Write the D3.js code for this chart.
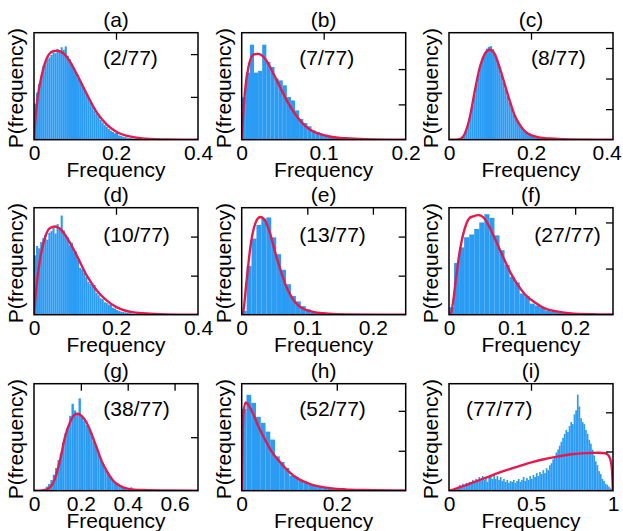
<!DOCTYPE html>
<html>
<head>
<meta charset="utf-8">
<script src="https://cdn.jsdelivr.net/npm/d3@7"></script>
<style>
html,body{margin:0;padding:0;background:#fff;}
svg{display:block;}
text{font-family:"Liberation Sans",Arial,Helvetica,sans-serif;fill:#000;}
</style>
</head>
<body>
<svg id="chart" width="623" height="531"></svg>
<script>
// ---------------- DATA ----------------
const panelLabels = ["(a)","(b)","(c)","(d)","(e)","(f)","(g)","(h)","(i)"];
const fractionLabels = ["(2/77)","(7/77)","(8/77)","(10/77)","(13/77)","(27/77)","(38/77)","(52/77)","(77/77)"];
const xMax = [0.4, 0.2, 0.4, 0.4, 0.25, 0.26, 0.7, 0.345, 1];
const xTickValues = [[0,0.2,0.4],[0,0.1,0.2],[0,0.2,0.4],[0,0.2,0.4],[0,0.1,0.2],[0,0.1,0.2],[0,0.2,0.4,0.6],[0,0.2],[0,0.5,1]];
const yMax = [12.5, 30.3, 17.5, 13.7, 27.4, 11.6, 8.0, 26.8, 5.46];
const yTickValues = [[5,10],[10,20],[5,10,15],[5,10],[10,20],[5,10],[4],[10,20],[2,4]];
const histStart = [0, 0, 0.02, 0, 0, 0, 0.02, 0, 0];
const histWidth = [0.005, 0.005, 0.005, 0.005, 0.0075, 0.008, 0.01, 0.01, 0.01];

const histA = [4.2,5.5,6.5,7.4,8.6,8.8,9.4,9.6,9.9,10.2,10.1,10.6,10.3,10.8,10.5,10.9,9.8,9.4,8.9,8.4,7.9,7.2,6.9,6.4,5.9,5.3,4.9,4.4,4.0,3.4,3.0,2.7,2.3,2.0,1.7,1.5,1.25,1.05,0.9,0.75,0.9,0.5,0.45,0.35,0.3,0.25,0.2,0.18,0.12,0.1,0.08,0.06,0.05,0.03,0.03,0.02];
const histB = [12,19,26.9,19,19.5,26.9,22,20.6,17.3,16.8,15.4,12.1,11.1,8.3,5.9,4.7,3.8,2.6,2.2,1.7,1.4,1.1,0.9,0.75,0.6,0.5,0.4,0.35,0.3,0.25,0.2,0.15,0.12,0.1,0.08,0.06];
const histC = [0.1,0.2,0.4,0.8,1.5,2.6,4.0,5.6,7.4,9.2,10.8,12.3,13.5,14.3,14.9,15.2,15.3,14.8,14.0,13.0,11.9,10.6,9.4,8.2,7.1,6.1,5.2,4.3,3.6,3.0,2.5,2.0,1.6,1.3,1.0,0.8,0.6,0.5,0.4,0.3,0.25,0.2,0.15,0.1,0.08,0.05];
const histD = [7.6,8.8,8.5,9.3,9.8,10.2,9.6,10.5,10.7,11.1,10.4,11.6,10.9,12.7,10.8,10.2,9.9,8.9,9.2,8.0,8.1,7.0,6.0,5.8,5.4,4.8,4.2,3.9,3.7,3.8,2.8,2.5,2.1,2.0,1.6,1.5,1.3,1.4,0.9,0.8,0.6,0.5,0.4,0.35,0.3,0.25,0.2,0.15,0.12,0.1,0.08,0.06,0.05,0.04,0.03];
const histE = [1.0,12.5,19.5,23.0,24.6,24.9,19.8,15.5,11.5,7.8,4.8,3.4,2.2,1.4,0.9,0.6,0.4,0.3,0.2,0.15,0.1,0.07,0.05];
const histF = [0.8,5.6,7.3,8.4,8.7,9.3,10.0,10.9,10.5,8.6,7.0,5.4,4.1,3.5,2.3,2.0,1.2,1.0,0.8,0.45,0.35,0.25,0.18,0.12,0.1,0.06,0.05,0.03];
const histG = [0.05,0.1,0.15,0.3,0.5,0.8,1.2,1.7,2.3,2.8,3.6,4.3,4.7,5.6,6.5,6.0,5.8,6.9,5.5,5.2,4.9,4.6,4.3,3.7,3.3,2.8,2.4,2.0,1.6,1.3,1.1,0.8,0.6,0.5,0.4,0.3,0.25,0.2,0.15,0.25,0.1,0.06,0.04,0.03];
const histH = [20.5,24.0,22.0,18.5,17.0,14.8,12.8,8.6,7.2,5.7,3.8,3.4,2.5,2.1,1.6,1.3,1.2,0.8,0.7,0.5,0.4,0.35,0.3,0.2,0.15,0.12,0.1,0.08,0.06,0.05];
const histI = [0.05,0.1,0.08,0.15,0.12,0.2,0.3,0.18,0.35,0.25,0.4,0.3,0.45,0.35,0.55,0.4,0.6,0.45,0.7,0.5,0.75,0.55,0.65,0.45,0.7,0.8,0.6,0.85,0.6,0.75,0.55,0.7,0.5,0.6,0.45,0.55,0.4,0.5,0.45,0.55,0.4,0.5,0.6,0.45,0.55,0.7,0.5,0.65,0.55,0.75,0.6,0.8,0.7,0.9,0.75,0.95,0.85,1.05,0.9,1.15,1.05,1.3,1.4,1.6,1.7,1.95,2.1,2.3,2.5,2.7,2.9,3.1,3.0,3.3,3.5,3.4,3.9,4.1,4.9,4.3,3.7,3.5,3.4,3.1,2.9,2.6,2.4,2.1,1.8,1.5,1.3,1.0,0.85,0.6,0.5,0.35,0.3,0.2,0.12,0.08];

const curveAx = [0,0.003,0.008,0.0187,0.031,0.047,0.057,0.0715,0.088,0.104,0.128,0.153,0.177,0.2016,0.242,0.283,0.324,0.4];
const curveAy = [0,2.2,4.6,7.5,9.5,10.35,10.4,10.1,9.1,7.7,5.4,3.2,1.8,0.9,0.3,0.08,0.02,0];
const curveBx = [0,0.002,0.0041,0.0082,0.0143,0.0196,0.0286,0.0367,0.0449,0.0571,0.0694,0.0816,0.0939,0.110,0.1265,0.151,0.2];
const curveBy = [0,8,14,20.5,24.1,24.3,22.9,19.6,15.8,10.2,5.9,3.1,1.7,0.75,0.4,0.15,0];
const curveCx = [0,0.015,0.0267,0.0388,0.0509,0.063,0.0751,0.0873,0.0994,0.1115,0.1236,0.1357,0.1479,0.16,0.176,0.192,0.2166,0.257,0.297,0.4];
const curveCy = [0,0.01,0.1,1.0,3.7,8.0,11.8,14.0,14.7,14.0,11.8,9.1,6.4,4.0,2.1,1.0,0.43,0.16,0.05,0];
const curveDx = [0,0.003,0.0081,0.0147,0.0269,0.0391,0.0513,0.0636,0.0799,0.0962,0.1125,0.1288,0.1532,0.1777,0.2021,0.2428,0.2836,0.3243,0.4];
const curveDy = [0,2.0,4.6,7.1,9.9,11.1,11.3,11.0,9.9,8.4,6.7,5.0,3.1,1.8,0.94,0.3,0.13,0.04,0];
const curveEx = [0,0.001,0.0077,0.0128,0.0204,0.0281,0.0357,0.0434,0.051,0.0587,0.0663,0.0765,0.0867,0.0969,0.1122,0.1327,0.1582,0.25];
const curveEy = [0,0,9.1,16.8,23.2,25.0,24.1,20.7,16.0,11.7,7.9,4.4,2.3,1.3,0.6,0.26,0.09,0];
const curveFx = [0,0.0026,0.0063,0.0116,0.0169,0.0248,0.0328,0.038,0.047,0.0565,0.067,0.0776,0.0882,0.0987,0.1093,0.1199,0.1357,0.1516,0.1727,0.1938,0.2255,0.26];
const curveFy = [0,0,1.3,4.2,6.8,9.3,10.5,10.65,10.8,10.4,9.1,7.5,5.9,4.4,3.2,2.25,1.34,0.69,0.33,0.14,0.05,0.02];
const curveGx = [0,0.0398,0.0682,0.0895,0.1108,0.132,0.1533,0.1747,0.1846,0.203,0.2244,0.2456,0.267,0.288,0.3096,0.338,0.366,0.409,0.466,0.565,0.7];
const curveGy = [0,0.02,0.25,0.9,2.25,4.0,5.1,5.7,5.75,5.6,5.1,4.25,3.25,2.25,1.5,0.75,0.37,0.12,0.05,0.01,0];
const curveHx = [0,0.0014,0.0035,0.0084,0.0154,0.0258,0.0363,0.0503,0.0642,0.0782,0.0991,0.12,0.141,0.162,0.19,0.218,0.26,0.345];
const curveHy = [0,10,19.2,22.1,21.25,18.75,15.8,12.5,9.6,7.5,4.8,2.9,1.8,1.1,0.58,0.33,0.17,0.04];
const curveIx = [0,0.0347,0.0959,0.1776,0.259,0.341,0.422,0.504,0.586,0.667,0.749,0.831,0.912,0.953,0.973,0.986,0.994,0.999];
const curveIy = [0,0.085,0.26,0.51,0.77,1.02,1.24,1.45,1.62,1.75,1.86,1.92,1.94,1.91,1.79,1.53,1.02,0];

const histograms = [histA,histB,histC,histD,histE,histF,histG,histH,histI];
const curvesX = [curveAx,curveBx,curveCx,curveDx,curveEx,curveFx,curveGx,curveHx,curveIx];
const curvesY = [curveAy,curveBy,curveCy,curveDy,curveEy,curveFy,curveGy,curveHy,curveIy];

// ---------------- LAYOUT / STYLE ----------------
const colLeft = [34, 241.7, 449];
const rowTop = [32.7, 207.7, 383.7];
const PW = 164, PH = 107;
const annotLeft = [69, 57.6, 82, 69.3, 57.6, 85.3, 69.3, 57.6, 17];
const annotBase = [32.3, 32.3, 32.3, 34, 34, 34, 32.3, 32.3, 32.3];
const FS = 21;
const BAR = "#2b9cf4", RED = "#e6194f";
const TICK = 7;
const RIGHT_LIMIT = 621.5;

const svg = d3.select("#chart");

panelLabels.forEach((lab, i) => {
  const col = i % 3, row = Math.floor(i / 3);
  const g = svg.append("g").attr("transform", `translate(${colLeft[col]},${rowTop[row]})`);
  const x = d3.scaleLinear().domain([0, xMax[i]]).range([0, PW]);
  const y = d3.scaleLinear().domain([0, yMax[i]]).range([PH, 0]);

  const clipId = "clip" + i;
  g.append("clipPath").attr("id", clipId).append("rect").attr("width", PW).attr("height", PH);

  // histogram bars
  const bins = histograms[i].map((v, k) => ({x0: histStart[i] + k * histWidth[i], x1: histStart[i] + (k + 1) * histWidth[i], v}));
  g.append("g").attr("clip-path", `url(#${clipId})`)
    .selectAll("rect").data(bins).join("rect")
    .attr("x", d => x(d.x0))
    .attr("width", d => x(d.x1) - x(d.x0) + 0.05)
    .attr("y", d => y(d.v))
    .attr("height", d => y(0) - y(d.v))
    .attr("fill", BAR);

  // fitted curve
  const pts = curvesX[i].map((cx, k) => [cx, curvesY[i][k]]);
  g.append("path").attr("clip-path", `url(#${clipId})`)
    .datum(pts)
    .attr("d", d3.line().x(d => x(d[0])).y(d => y(d[1])).curve(d3.curveMonotoneX))
    .attr("fill", "none").attr("stroke", RED).attr("stroke-width", 2.4)
    .attr("stroke-linejoin", "round");

  // right ticks (inside)
  const ra = g.append("g").attr("transform", `translate(${PW},0)`)
    .call(d3.axisLeft(y).tickValues(yTickValues[i]).tickSize(TICK).tickFormat(""));
  ra.select(".domain").remove();
  ra.selectAll("line").attr("stroke", "#000").attr("stroke-width", 1.3);

  // top ticks (inside)
  const inner = xTickValues[i].filter(v => v > 0 && v < xMax[i]);
  const ta = g.append("g")
    .call(d3.axisBottom(x).tickValues(inner).tickSize(TICK).tickFormat(""));
  ta.select(".domain").remove();
  ta.selectAll("line").attr("stroke", "#000").attr("stroke-width", 1.3);

  // bottom tick labels
  const ba = g.append("g").attr("transform", `translate(0,${PH})`)
    .call(d3.axisBottom(x).tickValues(xTickValues[i]).tickSize(0).tickPadding(5).tickFormat(d3.format("~g")));
  ba.select(".domain").remove();
  ba.selectAll("text").attr("font-size", FS).attr("font-family", null).attr("fill", "#000");
  // keep edge labels inside the picture
  ba.selectAll(".tick").each(function(d) {
    const t = d3.select(this).select("text");
    const bb = t.node().getBBox();
    const absRight = colLeft[col] + x(d) + bb.x + bb.width;
    if (absRight > RIGHT_LIMIT) t.attr("dx", (RIGHT_LIMIT - absRight) + "px");
  });

  // frame
  g.append("rect").attr("width", PW).attr("height", PH)
    .attr("fill", "none").attr("stroke", "#000").attr("stroke-width", 1.5);

  // title
  g.append("text").attr("x", PW / 2).attr("y", -6).attr("text-anchor", "middle")
    .attr("font-size", FS).text(lab);

  // fraction annotation
  g.append("text").attr("x", annotLeft[i]).attr("y", annotBase[i])
    .attr("font-size", FS).text(fractionLabels[i]);

  // x label
  g.append("text").attr("x", PW / 2).attr("y", PH + 37).attr("text-anchor", "middle")
    .attr("font-size", FS).text("Frequency");

  // y label
  g.append("text").attr("transform", `translate(-11,${PH / 2 + 2}) rotate(-90)`)
    .attr("text-anchor", "middle").attr("font-size", FS).text("P(frequency)");
});
</script>
</body>
</html>
